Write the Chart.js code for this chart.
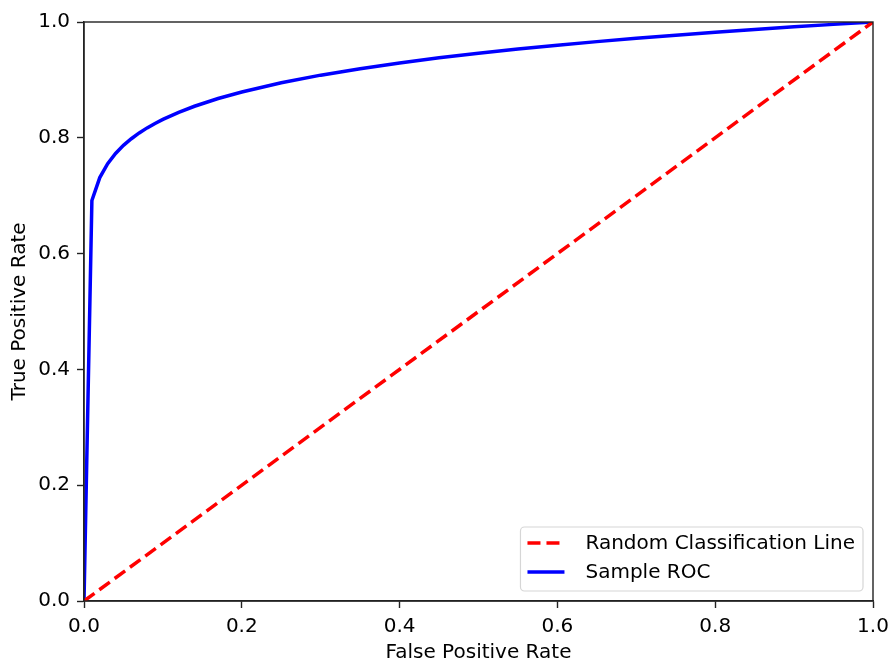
<!DOCTYPE html>
<html>
<head>
<meta charset="utf-8">
<script src="https://cdn.jsdelivr.net/npm/chart.js@4/dist/chart.umd.min.js"></script>
<style>
html,body{margin:0;padding:0;background:#fff;}
#wrap{width:890px;height:661px;position:relative;}
</style>
</head>
<body>
<div id="wrap"><canvas id="c" width="890" height="661"></canvas></div>
<script>
// Data
const randomLabel = "Random Classification Line";
const rocLabel = "Sample ROC";
const randomFpr = [0, 1];
const randomTpr = [0, 1];
const rocFpr = [0, 0.01, 0.02, 0.03, 0.04, 0.05, 0.06, 0.07, 0.08, 0.09, 0.10, 0.12, 0.14, 0.17, 0.20, 0.25, 0.30, 0.35, 0.40, 0.45, 0.50, 0.55, 0.60, 0.65, 0.70, 0.75, 0.80, 0.85, 0.90, 0.95, 1.00];
const rocTpr = [0, 0.6918, 0.7313, 0.7554, 0.7730, 0.7869, 0.7984, 0.8084, 0.8171, 0.8248, 0.8318, 0.8440, 0.8545, 0.8678, 0.8792, 0.8950, 0.9082, 0.9194, 0.9293, 0.9381, 0.9461, 0.9533, 0.9600, 0.9661, 0.9719, 0.9773, 0.9823, 0.9871, 0.9916, 0.9959, 1.0000];
const xTitle = "False Positive Rate";
const yTitle = "True Positive Rate";

const FONT = "'DejaVu Sans', sans-serif";
const FS = 20;
const AXIS = '#222';

const toPts = (xs, ys) => xs.map((x, i) => ({x: x, y: ys[i]}));

const framePlugin = {
  id: 'frame',
  afterDatasetsDraw(chart) {
    const {ctx, chartArea: a} = chart;
    ctx.save();
    ctx.strokeStyle = AXIS;
    ctx.lineWidth = 1.4;
    ctx.strokeRect(a.left, a.top, a.right - a.left, a.bottom - a.top);
    ctx.restore();
  },
  afterDraw(chart) {
    // legend inside chart area, bottom-right
    const {ctx, chartArea: a} = chart;
    const ds = chart.data.datasets;
    ctx.save();
    ctx.font = FS + "px " + FONT;
    const textW = Math.max(...ds.map(d => ctx.measureText(d.label).width));
    const rowH = 29;
    const boxW = 7 + 37 + 21 + textW + 8;
    const boxH = 64;
    const bx = a.right - 10 - boxW;
    const by = a.bottom - 10 - boxH;
    const r = 4;
    ctx.beginPath();
    ctx.moveTo(bx + r, by);
    ctx.arcTo(bx + boxW, by, bx + boxW, by + boxH, r);
    ctx.arcTo(bx + boxW, by + boxH, bx, by + boxH, r);
    ctx.arcTo(bx, by + boxH, bx, by, r);
    ctx.arcTo(bx, by, bx + boxW, by, r);
    ctx.closePath();
    ctx.fillStyle = 'rgba(255,255,255,0.8)';
    ctx.fill();
    ctx.strokeStyle = '#d6d6d6';
    ctx.lineWidth = 1.2;
    ctx.stroke();
    ds.forEach((d, i) => {
      const cy = by + 16 + rowH * i;
      ctx.beginPath();
      ctx.strokeStyle = d.borderColor;
      ctx.lineWidth = d.borderWidth;
      ctx.setLineDash(d.borderDash || []);
      ctx.moveTo(bx + 7, cy);
      ctx.lineTo(bx + 7 + 37, cy);
      ctx.stroke();
      ctx.setLineDash([]);
      ctx.fillStyle = '#000';
      ctx.textBaseline = 'middle';
      ctx.textAlign = 'left';
      ctx.fillText(d.label, bx + 7 + 37 + 21, cy + 1);
    });
    ctx.restore();
  }
};

new Chart(document.getElementById('c'), {
  type: 'line',
  data: {
    datasets: [
      {
        label: randomLabel,
        data: toPts(randomFpr, randomTpr),
        borderColor: '#ff0000',
        borderWidth: 3.5,
        borderDash: [13, 6],
        pointRadius: 0,
        tension: 0,
        fill: false
      },
      {
        label: rocLabel,
        data: toPts(rocFpr, rocTpr),
        borderColor: '#0000ff',
        borderWidth: 3.5,
        pointRadius: 0,
        tension: 0,
        fill: false
      }
    ]
  },
  options: {
    responsive: false,
    animation: false,
    devicePixelRatio: 1,
    layout: {padding: {left: 0, right: 17, top: 22, bottom: 0}},
    plugins: {legend: {display: false}, tooltip: {enabled: false}},
    scales: {
      x: {
        type: 'linear',
        min: 0, max: 1,
        border: {display: true, color: AXIS, width: 1.4},
        grid: {display: true, drawOnChartArea: false, drawTicks: true, tickLength: 7, color: AXIS, tickWidth: 1.4},
        ticks: {stepSize: 0.2, color: '#000', font: {family: FONT, size: FS}, padding: 7, maxRotation: 0,
                callback: v => Number(v).toFixed(1)},
        title: {display: true, text: xTitle, color: '#000', font: {family: FONT, size: FS}, padding: {top: 4, bottom: -4}},
        afterFit: s => { s.height = 60; s.paddingLeft = 0; s.paddingRight = 0; }
      },
      y: {
        type: 'linear',
        min: 0, max: 1,
        border: {display: true, color: AXIS, width: 1.4},
        grid: {display: true, drawOnChartArea: false, drawTicks: true, tickLength: 7, color: AXIS, tickWidth: 1.4},
        ticks: {stepSize: 0.2, color: '#000', font: {family: FONT, size: FS}, padding: 7,
                callback: v => Number(v).toFixed(1)},
        title: {display: true, text: yTitle, color: '#000', font: {family: FONT, size: FS}, padding: {top: 8, bottom: 4}},
        afterFit: s => { s.width = 84; s.paddingTop = 0; s.paddingBottom = 0; }
      }
    }
  },
  plugins: [framePlugin]
});
</script>
</body>
</html>
